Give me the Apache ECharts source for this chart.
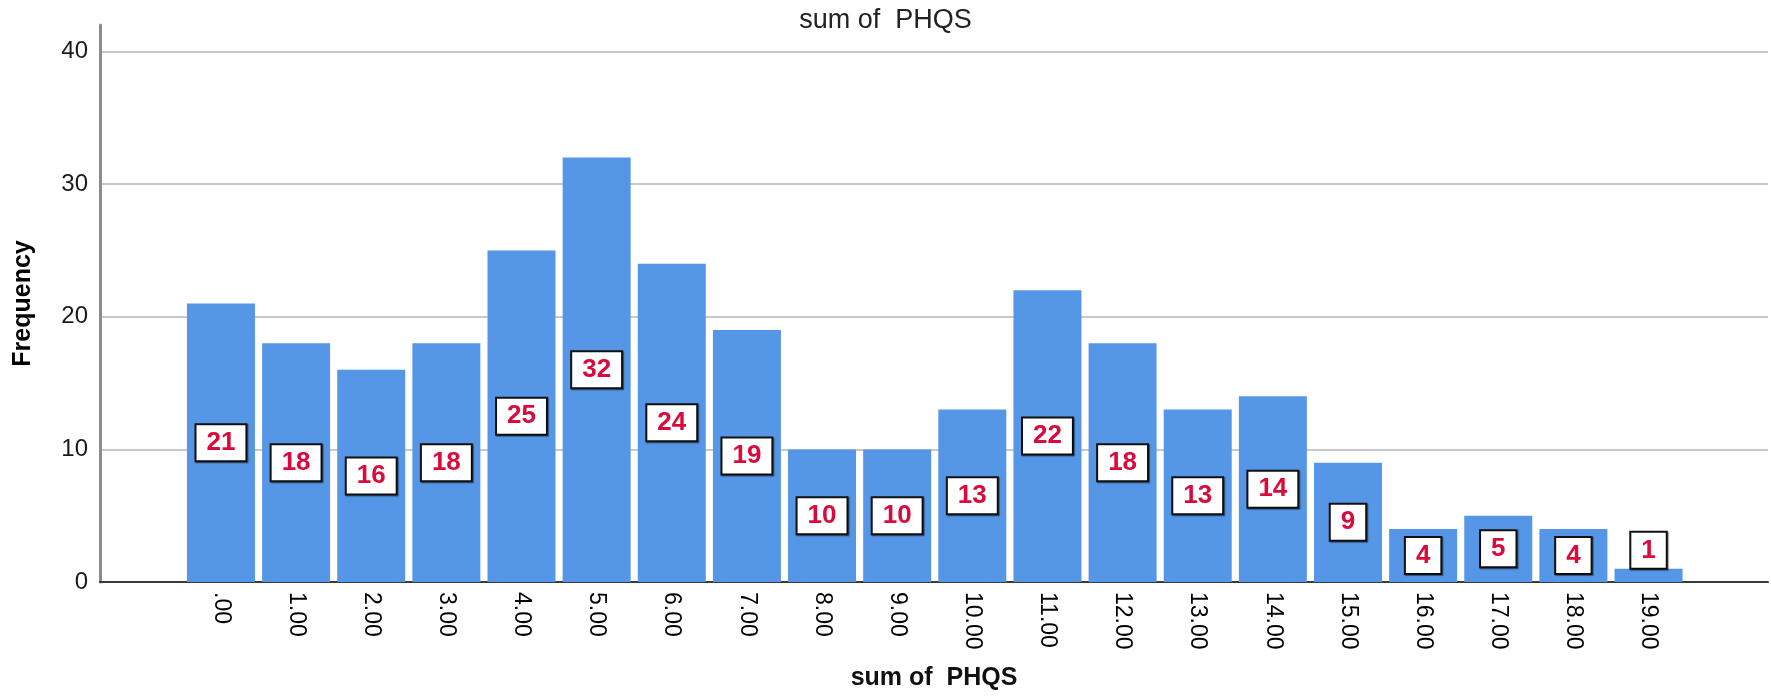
<!DOCTYPE html>
<html>
<head>
<meta charset="utf-8">
<script src="https://cdn.jsdelivr.net/npm/echarts@6/dist/echarts.min.js"></script>
<style>
  html, body { margin: 0; padding: 0; background: #fff; }
  #main { width: 1771px; height: 696px; }
</style>
</head>
<body>
<div id="main"></div>
<script>
// 数据
var scores = [0, 1, 2, 3, 4, 5, 6, 7, 8, 9, 10, 11, 12, 13, 14, 15, 16, 17, 18, 19];
var freq = [21, 18, 16, 18, 25, 32, 24, 19, 10, 10, 13, 22, 18, 13, 14, 9, 4, 5, 4, 1];
var yTicks = [0, 10, 20, 30, 40];

var myChart = echarts.init(document.getElementById('main'));

var fontFam = '"Liberation Sans", Arial, sans-serif';

var barData = scores.map(function (s, i) {
  var item = { value: [s, freq[i]] };
  // 太矮的柱子标签放到顶部
  if (freq[i] < 2) {
    item.label = { position: 'top', distance: 1 };
  }
  return item;
});

option = {
  animation: false,
  title: {
    text: 'sum of  PHQS',
    left: 'center',
    top: 2,
    textStyle: { fontFamily: fontFam, fontSize: 27, fontWeight: 'normal', color: '#222' }
  },
  grid: { left: 100, right: 3, top: 25, bottom: 113 },
  xAxis: {
    type: 'value',
    min: -1.61,
    max: 20.59,
    name: 'sum of  PHQS',
    nameLocation: 'middle',
    nameGap: 84,
    nameTextStyle: { fontFamily: fontFam, fontSize: 25, fontWeight: 'bold', color: '#111' },
    axisLine: { show: true, lineStyle: { color: '#3a3a3a', width: 2 } },
    axisTick: { show: false },
    splitLine: { show: false },
    axisLabel: {
      customValues: scores,
      rotate: -90,
      margin: 10,
      fontFamily: fontFam,
      fontSize: 23,
      color: '#000',
      formatter: function (v) {
        return v === 0 ? '.00' : v + '.00';
      }
    }
  },
  yAxis: {
    type: 'value',
    min: 0,
    max: 42,
    interval: 10,
    name: 'Frequency',
    nameLocation: 'middle',
    nameGap: 64,
    nameTextStyle: { fontFamily: fontFam, fontSize: 25, fontWeight: 'bold', color: '#000' },
    axisLine: { show: true, onZero: false, lineStyle: { color: '#8c8c8c', width: 3 } },
    axisTick: { show: false },
    axisLabel: {
      margin: 12,
      fontFamily: fontFam,
      fontSize: 24,
      color: '#1a1a1a',
      formatter: function (v) {
        return yTicks.indexOf(v) >= 0 ? String(v) : '';
      }
    },
    splitLine: {
      show: true,
      lineStyle: {
        color: ['#c8c8c8', '#c8c8c8', '#c8c8c8', '#c8c8c8', '#c8c8c8', 'rgba(0,0,0,0)'],
        width: 2
      }
    }
  },
  series: [
    {
      name: 'Frequency',
      type: 'bar',
      barWidth: 68,
      data: barData,
      itemStyle: { color: '#5596e6' },
      label: {
        show: true,
        position: 'inside',
        formatter: function (p) { return p.value[1]; },
        fontFamily: fontFam,
        fontSize: 26,
        fontWeight: 'bold',
        color: '#d90b3c',
        backgroundColor: '#fff',
        borderColor: '#111',
        borderWidth: 2,
        padding: [4, 10, 3, 10],
        lineHeight: 28,
        shadowColor: 'rgba(0,0,0,0.45)',
        shadowOffsetX: 1,
        shadowOffsetY: 1,
        shadowBlur: 1
      }
    }
  ]
};

myChart.setOption(option);
</script>
</body>
</html>
